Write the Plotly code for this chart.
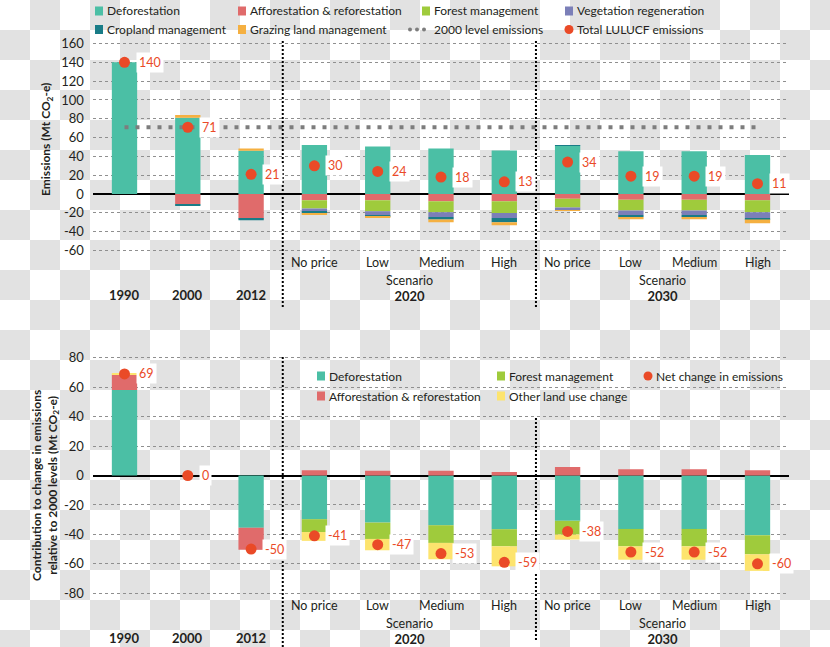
import plotly.graph_objects as go

W, H = 830, 647

# ---------------- data ----------------
categories = ["1990", "2000", "2012", "No price", "Low", "Medium", "High",
              "No price", "Low", "Medium", "High"]
year_labels = ["1990", "2000", "2012"]
scenario_years = ["2020", "2030"]
scenario_word = "Scenario"

# Top chart: emissions by activity (Mt CO2-e)
deforestation = [140, 81, 46, 52.2, 50.4, 48.3, 46.2, 51.2, 45.5, 45.5, 41.6]
afforestation = [0, -11, -26, -6.7, -6.7, -7.8, -7.8, -4.9, -6.0, -6.0, -6.7]
forest_mgmt = [0, 0, 0, -8.8, -11.6, -11.6, -12.3, -9.5, -11.6, -11.6, -12.7]
veg_regen = [0, 0, 0, -3.2, -4.6, -4.9, -5.3, -2.5, -4.6, -4.6, -6.0]
cropland = [0, -1.8, -2.0, -1.8, -1.4, -2.8, -4.6, 1.0, -2.1, -2.1, -1.8]
grazing = [0, 3.0, 2.5, -1.7, -1.1, -2.8, -3.2, -0.8, -2.5, -2.5, -3.9]
total_lulucf = [140, 71, 21, 30, 24, 18, 13, 34, 19, 19, 11]
level_2000 = 71

# Bottom chart: contribution to change relative to 2000 (Mt CO2-e)
chg_deforestation = [58, 0, -35.5, -29.7, -32.0, -33.8, -36.5, -30.8, -36.3, -36.3, -40.6]
chg_afforestation = [10.5, 0, -15.0, 3.6, 3.2, 3.2, 2.3, 5.7, 4.3, 4.3, 3.6]
chg_forest_mgmt = [0, 0, 0, -8.7, -11.1, -12.0, -11.6, -9.3, -11.8, -11.8, -12.9]
chg_other_luc = [0.7, 0, 0, -6.0, -7.7, -11.1, -13.6, -3.4, -9.1, -9.1, -11.3]
net_change = [69, 0, -50, -41, -47, -53, -59, -38, -52, -52, -60]

top_ticks = [-60, -40, -20, 0, 20, 40, 60, 80, 100, 120, 140, 160]
top_ticktext = ["-60", "-40", "-20", "0", "20", "40", "60", "80", "100", "120", "140", "160"]
bot_ticks = [-80, -60, -40, -20, 0, 20, 40, 60, 80]
bot_ticktext = ["-80", "-60", "-40", "-20", "0", "20", "40", "60", "80"]

# ---------------- style ----------------
C_DEF = "#4bbfa5"
C_AFF = "#e06b6b"
C_FOR = "#9fcb3c"
C_VEG = "#7b7fb8"
C_CROP = "#197c87"
C_GRAZ = "#f5b041"
C_OTHER = "#fde46e"
C_DOT = "#ea4a27"
C_LEVEL = "#7d7d7d"
TXT = "#231f20"
FONT = "Lato"

x = list(range(len(categories)))
BW = 0.4


def fx(p):
    return p / W


def fy(p):
    return 1 - p / H


fig = go.Figure()

N_DEF, N_AFF, N_FOR, N_VEG = ("Deforestation", "Afforestation & reforestation",
                              "Forest management", "Vegetation regeneration")
N_CROP, N_GRAZ, N_LEVEL, N_TOT = ("Cropland management", "Grazing land management",
                                  "2000 level emissions", "Total LULUCF emissions")
N_OTHER, N_NET = "Other land use change", "Net change in emissions"

top_series = [
    (N_DEF, deforestation, C_DEF),
    (N_AFF, afforestation, C_AFF),
    (N_FOR, forest_mgmt, C_FOR),
    (N_VEG, veg_regen, C_VEG),
    (N_CROP, cropland, C_CROP),
    (N_GRAZ, grazing, C_GRAZ),
]
for name, vals, col in top_series:
    fig.add_trace(go.Bar(x=x, y=vals, name=name, marker=dict(color=col, line=dict(width=0)),
                         width=BW, xaxis="x", yaxis="y", showlegend=False))

fig.add_trace(go.Scatter(x=[x[0], x[-1]], y=[level_2000, level_2000], mode="lines",
                         name=N_LEVEL, line=dict(color=C_LEVEL, width=4, dash="4px,7px"),
                         xaxis="x", yaxis="y", showlegend=False))
fig.add_trace(go.Scatter(x=x, y=total_lulucf, mode="markers", name=N_TOT,
                         marker=dict(color=C_DOT, size=11), xaxis="x", yaxis="y",
                         showlegend=False))

bot_series = [
    (N_DEF, chg_deforestation, C_DEF),
    (N_AFF, chg_afforestation, C_AFF),
    (N_FOR, chg_forest_mgmt, C_FOR),
    (N_OTHER, chg_other_luc, C_OTHER),
]
for name, vals, col in bot_series:
    fig.add_trace(go.Bar(x=x, y=vals, name=name, marker=dict(color=col, line=dict(width=0)),
                         width=BW, xaxis="x2", yaxis="y2", showlegend=False))
fig.add_trace(go.Scatter(x=x, y=net_change, mode="markers", name=N_NET,
                         marker=dict(color=C_DOT, size=11), xaxis="x2", yaxis="y2",
                         showlegend=False))

# ---------------- axes ----------------
xdom = [fx(92.85), fx(789.15)]
top_dom = [fy(256.1), fy(37.9)]
bot_dom = [fy(602.1), fy(348.9)]

common_x = dict(range=[-0.5, 10.5], domain=xdom, showgrid=False, zeroline=False,
                showticklabels=False, showline=False, ticks="", fixedrange=True)
common_y = dict(showgrid=True, gridcolor="#8f8f8f", griddash="dot", gridwidth=1,
                zeroline=True, zerolinecolor="#000000", zerolinewidth=1.5,
                showline=False, ticks="", ticklabelstandoff=8,
                tickfont=dict(family=FONT, size=13, color=TXT), fixedrange=True)

fig.update_layout(
    width=W, height=H,
    margin=dict(l=0, r=0, t=0, b=0, autoexpand=False),
    paper_bgcolor="#ffffff", plot_bgcolor="rgba(0,0,0,0)",
    barmode="relative", showlegend=False,
    xaxis=dict(**common_x, anchor="y"),
    xaxis2=dict(**common_x, anchor="y2"),
    yaxis=dict(**common_y, domain=top_dom, range=[-66, 166], anchor="x",
               tickmode="array", tickvals=top_ticks, ticktext=top_ticktext),
    yaxis2=dict(**common_y, domain=bot_dom, range=[-86, 86], anchor="x2",
                tickmode="array", tickvals=bot_ticks, ticktext=bot_ticktext),
    font=dict(family=FONT, color=TXT),
)

# ---------------- checkerboard backdrop ----------------
shapes = []
CELL = 30
for i in range(W // CELL + 1):
    for j in range(H // CELL + 1):
        if (i + j) % 2 == 1:
            shapes.append(dict(type="rect", xref="paper", yref="paper", layer="below",
                               x0=fx(i * CELL), x1=fx((i + 1) * CELL),
                               y0=fy((j + 1) * CELL), y1=fy(j * CELL),
                               fillcolor="#e2e2e2", line=dict(width=0)))

# group dividers (between years and scenario groups)
div1 = len(year_labels) - 0.5
div2 = div1 + 4
for xr, xv, y0, y1 in [("x", div1, 307, 40), ("x", div2, 307, 40),
                       ("x2", div1, 647, 355), ("x2", div2, 640, 417)]:
    shapes.append(dict(type="line", xref=xr, yref="paper", x0=xv, x1=xv,
                       y0=fy(y0), y1=fy(y1), layer="above",
                       line=dict(color="#000000", width=2, dash="2px,2px")))

ann = []

# ---------------- legends (drawn as keys) ----------------
top_legend = [
    (N_DEF, C_DEF, "sq", 0, 0), (N_AFF, C_AFF, "sq", 1, 0),
    (N_FOR, C_FOR, "sq", 2, 0), (N_VEG, C_VEG, "sq", 3, 0),
    (N_CROP, C_CROP, "sq", 0, 1), (N_GRAZ, C_GRAZ, "sq", 1, 1),
    (N_LEVEL, C_LEVEL, "dots", 2, 1), (N_TOT, C_DOT, "dot", 3, 1),
]
bot_legend = [
    (N_DEF, C_DEF, "sq", 0, 0), (N_AFF, C_AFF, "sq", 0, 1),
    (N_FOR, C_FOR, "sq", 1, 0), (N_OTHER, C_OTHER, "sq", 1, 1),
    (N_NET, C_DOT, "dot", 2, 0),
]
for items, cols, rows in [(top_legend, [107, 250, 434, 577], [11, 29.5]),
                          (bot_legend, [329, 509, 656], [376, 396])]:
    for name, col, kind, ci, ri in items:
        t, r = cols[ci], rows[ri]
        if kind == "sq":
            shapes.append(dict(type="rect", xref="paper", yref="paper",
                               x0=fx(t - 12), x1=fx(t - 4), y0=fy(r + 4.5), y1=fy(r - 4.5),
                               fillcolor=col, line=dict(width=0)))
        elif kind == "dot":
            shapes.append(dict(type="circle", xref="paper", yref="paper",
                               x0=fx(t - 12.5), x1=fx(t - 3.5), y0=fy(r + 4.5), y1=fy(r - 4.5),
                               fillcolor=col, line=dict(width=0)))
        else:
            for off in (24, 17, 10):
                shapes.append(dict(type="circle", xref="paper", yref="paper",
                                   x0=fx(t - off - 2), x1=fx(t - off + 2),
                                   y0=fy(r + 2), y1=fy(r - 2),
                                   fillcolor=col, line=dict(width=0)))
        ann.append(dict(x=fx(t), y=fy(r), xref="paper", yref="paper", text=name,
                        showarrow=False, xanchor="left", yanchor="middle",
                        borderpad=0, borderwidth=0,
                        font=dict(family=FONT, size=12, color=TXT)))

fig.update_layout(shapes=shapes)

# ---------------- annotations ----------------
# value labels
for xs, ys, vals in [("x", "y", total_lulucf), ("x2", "y2", net_change)]:
    for xi, v in zip(x, vals):
        ann.append(dict(x=xi, y=v, xref=xs, yref=ys, text=str(v), showarrow=False,
                        xanchor="left", yanchor="middle", xshift=11,
                        bgcolor="#ffffff", borderpad=2,
                        font=dict(family=FONT, size=12.5, color=C_DOT)))

# category labels
for xs, y_cat, y_grp, y_year in [("x", 262, 288, 295), ("x2", 605, 631, 638)]:
    for xi, lab in zip(x, categories):
        if lab in year_labels:
            ann.append(dict(x=xi, y=fy(y_year), xref=xs, yref="paper", text="<b>%s</b>" % lab,
                            showarrow=False, xanchor="center", yanchor="middle",
                            font=dict(family=FONT, size=13, color=TXT)))
        else:
            ann.append(dict(x=xi, y=fy(y_cat), xref=xs, yref="paper", text=lab,
                            showarrow=False, xanchor="center", yanchor="middle",
                            font=dict(family=FONT, size=12.5, color=TXT)))
    for k, yr in enumerate(scenario_years):
        cx = div1 + 2 + 4 * k
        ann.append(dict(x=cx, y=fy(y_grp), xref=xs, yref="paper",
                        text="%s<br><b><span style='font-size:13px'>%s</span></b>" % (scenario_word, yr),
                        showarrow=False, xanchor="center", yanchor="middle",
                        font=dict(family=FONT, size=12.5, color=TXT)))

# axis titles
ann.append(dict(x=fx(47), y=fy(140), xref="paper", yref="paper", textangle=-90,
                xanchor="center", yanchor="middle",
                text="<b>Emissions (Mt CO<sub>2</sub>-e)</b>", showarrow=False,
                font=dict(family=FONT, size=12, color=TXT)))
ann.append(dict(x=fx(45), y=fy(486), xref="paper", yref="paper", textangle=-90,
                xanchor="center", yanchor="middle",
                text="<b>Contribution to change in emissions<br>relative to 2000 levels (Mt CO<sub>2</sub>-e)</b>",
                showarrow=False, font=dict(family=FONT, size=12, color=TXT)))

fig.update_layout(annotations=ann)

fig.write_html("out.html", config={"displayModeBar": False},
               post_script="document.body.style.margin='0px';")
